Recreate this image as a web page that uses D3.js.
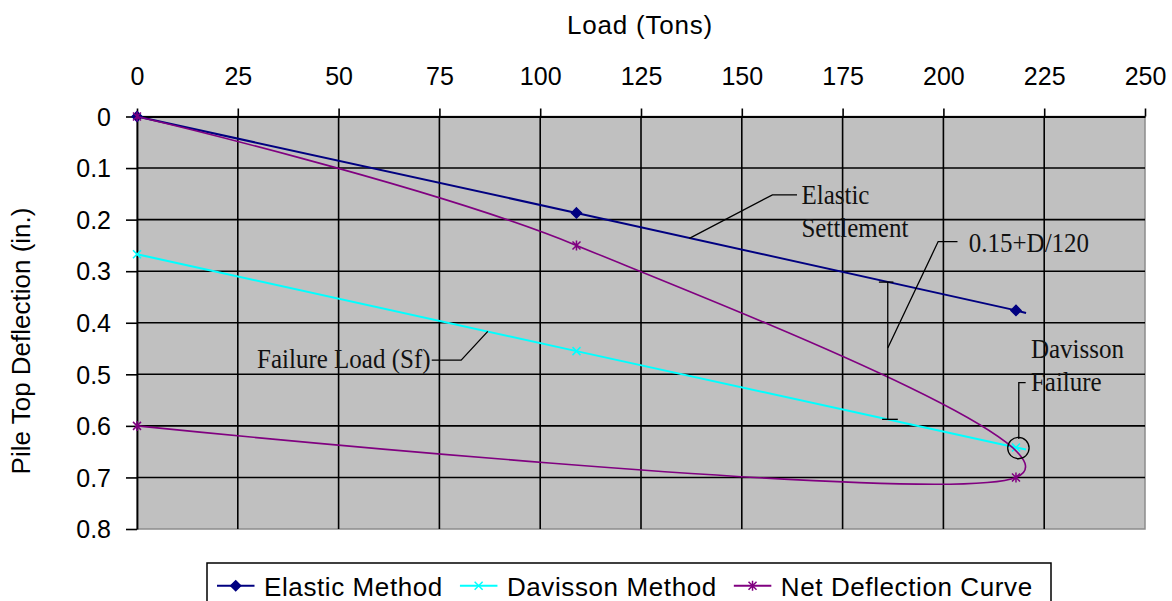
<!DOCTYPE html>
<html>
<head>
<meta charset="utf-8">
<script src="https://cdn.jsdelivr.net/npm/d3@7/dist/d3.min.js"></script>
<style>
  body { margin: 0; background: #fff; }
  svg { display: block; }
</style>
</head>
<body>
<div id="chart"></div>
<script>
// values
const xTicks = [0, 25, 50, 75, 100, 125, 150, 175, 200, 225, 250];
const yTicks = [0, 0.1, 0.2, 0.3, 0.4, 0.5, 0.6, 0.7, 0.8];
const yTickLabels = ['0', '0.1', '0.2', '0.3', '0.4', '0.5', '0.6', '0.7', '0.8'];

const elasticLoad = [0, 109, 218, 220.5];
const elasticDefl = [0, 0.187, 0.376, 0.381];
const davissonLoad = [0, 109, 218, 220.5];
const davissonDefl = [0.267, 0.455, 0.642, 0.646];
const netLoad = [0, 109, 218, 0];
const netDefl = [0, 0.25, 0.70, 0.60];
const markedPoints = [3, 3, 4];

const seriesNames = ['Elastic Method', 'Davisson Method', 'Net Deflection Curve'];
const seriesColors = ['#000080', '#00ffff', '#800080'];

const W = 1172, H = 601;
const x = d3.scaleLinear().domain([0, 250]).range([137, 1145]);
const y = d3.scaleLinear().domain([0, 0.8]).range([116.5, 529]);

const svg = d3.select('#chart').append('svg')
    .attr('width', W)
    .attr('height', H);

const sans = '"Liberation Sans", Arial, sans-serif';
const serif = '"Liberation Serif", "Times New Roman", serif';

// plot area
svg.append('rect')
    .attr('x', x(0)).attr('y', y(0))
    .attr('width', x(250) - x(0)).attr('height', y(0.8) - y(0))
    .attr('fill', '#c0c0c0')
    .attr('stroke', '#8c8c8c')
    .attr('stroke-width', 1.5);

// gridlines
svg.append('g').selectAll('line')
    .data(xTicks.slice(1, -1))
    .join('line')
    .attr('x1', d => x(d)).attr('x2', d => x(d))
    .attr('y1', y(0)).attr('y2', y(0.8))
    .attr('stroke', '#000').attr('stroke-width', 1.6);

svg.append('g').selectAll('line')
    .data(yTicks.slice(1, -1))
    .join('line')
    .attr('x1', x(0)).attr('x2', x(250))
    .attr('y1', d => y(d)).attr('y2', d => y(d))
    .attr('stroke', '#000').attr('stroke-width', 1.6);

// axes
const xAxis = svg.append('g')
    .attr('transform', 'translate(0,' + y(0) + ')')
    .call(d3.axisTop(x).tickValues(xTicks).tickSize(8).tickSizeOuter(0).tickPadding(24));
const yAxis = svg.append('g')
    .attr('transform', 'translate(' + x(0) + ',0)')
    .call(d3.axisLeft(y).tickValues(yTicks).tickSize(11).tickSizeOuter(0).tickPadding(15)
        .tickFormat((d, i) => yTickLabels[i]));

[xAxis, yAxis].forEach(a => {
    a.select('.domain').attr('stroke', '#000').attr('stroke-width', 1.8);
    a.selectAll('.tick line').attr('stroke', '#000').attr('stroke-width', 1.6);
    a.selectAll('.tick text')
        .attr('fill', '#000')
        .style('font-family', sans)
        .style('font-size', '25px');
});
xAxis.selectAll('.tick text').attr('dy', 0).attr('y', -32);
yAxis.selectAll('.tick text').attr('dy', '0.35em');

// axis titles
svg.append('text')
    .attr('x', 640).attr('y', 34)
    .attr('text-anchor', 'middle')
    .style('font-family', sans).style('font-size', '26px').style('letter-spacing', '0.8px')
    .text('Load (Tons)');

svg.append('text')
    .attr('transform', 'translate(30,341) rotate(-90)')
    .attr('text-anchor', 'middle')
    .style('font-family', sans).style('font-size', '26px')
    .text('Pile Top Deflection (in.)');

// series
const series = [
    elasticLoad.map((d, i) => [d, elasticDefl[i]]),
    davissonLoad.map((d, i) => [d, davissonDefl[i]]),
    netLoad.map((d, i) => [d, netDefl[i]])
];

const straight = d3.line().x(d => x(d[0])).y(d => y(d[1]));
const smooth = d3.line().x(d => x(d[0])).y(d => y(d[1])).curve(d3.curveCardinal.tension(0));

const markerPath = [
    'M0,-5L5,0L0,5L-5,0Z',
    'M-4,-4L4,4M-4,4L4,-4',
    'M-4,-4L4,4M-4,4L4,-4M0,-5L0,5'
];

function drawMarker(g, i, px, py) {
    g.append('path')
        .attr('transform', 'translate(' + px + ',' + py + ')')
        .attr('d', markerPath[i])
        .attr('fill', i === 0 ? seriesColors[i] : 'none')
        .attr('stroke', seriesColors[i])
        .attr('stroke-width', 1.5);
}

series.forEach((pts, i) => {
    const g = svg.append('g');
    g.append('path')
        .attr('d', (i === 2 ? smooth : straight)(pts))
        .attr('fill', 'none')
        .attr('stroke', seriesColors[i])
        .attr('stroke-width', i === 2 ? 1.6 : 2);
    pts.slice(0, markedPoints[i]).forEach(p => drawMarker(g, i, x(p[0]), y(p[1])));
});

// annotations (placed in data units)
const elasticAt = l => 0.376 / 218 * l;
const davissonAt = l => 0.267 + (0.642 - 0.267) / 218 * l;

const ann = svg.append('g')
    .attr('fill', 'none')
    .attr('stroke', '#000')
    .attr('stroke-width', 1.3);

const leader = d3.line().x(d => x(d[0])).y(d => y(d[1]));

ann.append('path').attr('d', leader([[163.7, 0.152], [157.6, 0.152], [137, elasticAt(137)]]));
ann.append('path').attr('d', leader([[203.5, 0.2426], [198.7, 0.2426], [186.2, 0.449]]));
ann.append('path').attr('d', leader([[186.2, elasticAt(186.2)], [186.2, davissonAt(186.2)]]));
ann.append('path').attr('d', leader([[184.0, elasticAt(186.2)], [187.6, elasticAt(186.2)]]));
ann.append('path').attr('d', leader([[184.8, davissonAt(186.2)], [188.7, davissonAt(186.2)]]));
ann.append('path').attr('d', leader([[73.1, 0.4725], [80.4, 0.4725], [87, davissonAt(87)]]));
ann.append('path').attr('d', leader([[220.4, 0.516], [218.7, 0.516], [218.7, 0.6256]]));
ann.append('circle')
    .attr('cx', x(218.6)).attr('cy', y(0.643))
    .attr('r', 10.7);

function label(lines, lx, ly, anchor) {
    lines.forEach((t, i) => {
        svg.append('text')
            .attr('transform', 'translate(' + x(lx) + ',' + y(ly[i]) + ') scale(1,1.13)')
            .attr('text-anchor', anchor || 'start')
            .attr('fill', '#111')
            .style('font-family', serif)
            .style('font-size', '25px')
            .text(t);
    });
}

label(['Elastic', 'Settlement'], 164.8, [0.1696, 0.233]);
label(['0.15+D/120'], 206.3, [0.262]);
label(['Failure Load (Sf)'], 72.8, [0.488], 'end');
label(['Davisson', 'Failure'], 221.7, [0.4686, 0.532]);

// legend
const legend = svg.append('g');
legend.append('rect')
    .attr('x', 207).attr('y', 563)
    .attr('width', 844).attr('height', 60)
    .attr('fill', '#fff')
    .attr('stroke', '#000')
    .attr('stroke-width', 1.5);

let lx = 217;
seriesNames.forEach((name, i) => {
    legend.append('line')
        .attr('x1', lx).attr('x2', lx + 37.5)
        .attr('y1', 585.7).attr('y2', 585.7)
        .attr('stroke', seriesColors[i])
        .attr('stroke-width', 2);
    drawMarker(legend, i, lx + 18.7, 585.7);
    const t = legend.append('text')
        .attr('x', lx + 47).attr('y', 595.7)
        .attr('fill', '#000')
        .style('font-family', sans).style('font-size', '26px').style('letter-spacing', '0.6px')
        .text(name);
    lx = lx + 47 + t.node().getComputedTextLength() + 17;
});
</script>
</body>
</html>
